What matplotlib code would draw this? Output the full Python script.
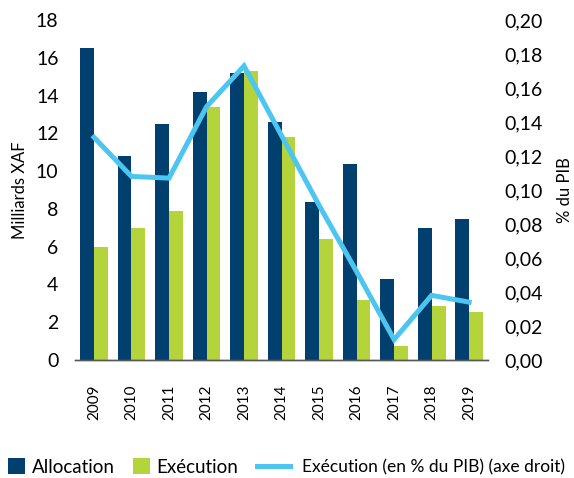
import numpy as np
import matplotlib.pyplot as plt
from matplotlib.ticker import FuncFormatter

plt.rcParams['font.family'] = ['Lato', 'DejaVu Sans']

years = ['2009', '2010', '2011', '2012', '2013', '2014', '2015', '2016', '2017', '2018', '2019']
allocation = [16.5, 10.8, 12.5, 14.2, 15.2, 12.6, 8.35, 10.4, 4.3, 7.0, 7.45]
execution = [6.0, 7.0, 7.9, 13.4, 15.3, 11.8, 6.4, 3.2, 0.74, 2.85, 2.55]
exec_pib = [0.131, 0.108, 0.107, 0.149, 0.173, 0.132, 0.091, 0.052, 0.012, 0.038, 0.034]

NAVY = '#003F6E'
GREEN = '#B5D33A'
CYAN = '#4CC6F0'

fig = plt.figure(figsize=(5.74, 4.78), dpi=100)
ax = fig.add_axes([0.131, 0.247, 0.719, 0.711])
ax2 = ax.twinx()

x = np.arange(len(years))
w = 0.37
ax.bar(x - w / 2, allocation, w, color=NAVY, label='Allocation', zorder=2)
ax.bar(x + w / 2, execution, w, color=GREEN, label='Exécution', zorder=2)
ax2.plot(x, exec_pib, color=CYAN, linewidth=3.6, label='Exécution (en % du PIB) (axe droit)',
         solid_joinstyle='miter')

ax.set_xlim(-0.5, len(years) - 0.5)
ax.set_ylim(0, 18)
ax.set_yticks(range(0, 19, 2))
ax2.set_ylim(0, 0.20)
ax2.set_yticks(np.arange(0, 0.201, 0.02))
ax2.yaxis.set_major_formatter(FuncFormatter(lambda v, p: f'{v:.2f}'.replace('.', ',')))

ax.set_xticks(x)
ax.set_xticklabels(years, rotation=90)
ax.tick_params(axis='x', length=0, pad=18, labelsize=11)
ax.tick_params(axis='y', length=0, pad=12, labelsize=14)
ax2.tick_params(axis='y', length=0, pad=12, labelsize=14)

for a in (ax, ax2):
    for s in ('top', 'left', 'right'):
        a.spines[s].set_visible(False)
    a.spines['bottom'].set_color('#595959')
    a.spines['bottom'].set_linewidth(1.0)

ax.set_ylabel('Milliards XAF', fontsize=12, labelpad=6)
ax2.set_ylabel('% du PIB', fontsize=12, labelpad=10)

h1, l1 = ax.get_legend_handles_labels()
h2, l2 = ax2.get_legend_handles_labels()
fig.legend(h1, l1, loc='center left', bbox_to_anchor=(0.014, 0.023), ncol=2,
           frameon=False, fontsize=13.5, handlelength=0.9, handleheight=0.9,
           columnspacing=0.96, handletextpad=0.37, borderpad=0, borderaxespad=0)
fig.legend(h2, l2, loc='center left', bbox_to_anchor=(0.448, 0.023),
           frameon=False, fontsize=12.5, handlelength=1.9,
           handletextpad=0.69, borderpad=0, borderaxespad=0)

fig.savefig('out.png', dpi=100)
